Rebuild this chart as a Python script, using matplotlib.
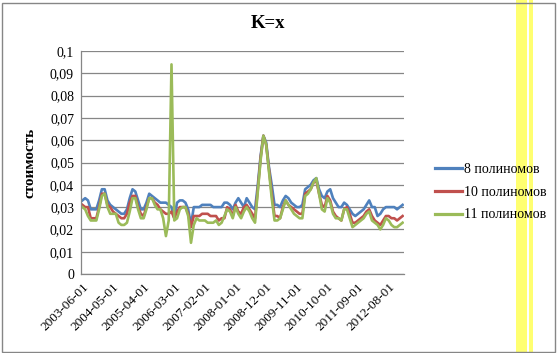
import matplotlib
matplotlib.use("Agg")
import matplotlib.pyplot as plt
from matplotlib.patches import Rectangle
import numpy as np

title = "K=x"
ylabel = "стоимость"
series_names = ["8 полиномов", "10 полиномов", "11 полиномов"]
tick_labels = ["2003-06-01", "2004-05-01", "2005-04-01", "2006-03-01", "2007-02-01",
               "2008-01-01", "2008-12-01", "2009-11-01", "2010-10-01", "2011-09-01",
               "2012-08-01"]
tick_step = 11
yticks = [0, 0.01, 0.02, 0.03, 0.04, 0.05, 0.06, 0.07, 0.08, 0.09, 0.1]

blue = [0.033, 0.034, 0.033, 0.029, 0.029, 0.029, 0.033, 0.038, 0.038, 0.033,
        0.031, 0.030, 0.029, 0.028, 0.027, 0.027, 0.029, 0.034, 0.038, 0.037,
        0.033, 0.029, 0.029, 0.032, 0.036, 0.035, 0.034, 0.033, 0.032, 0.032,
        0.032, 0.031, 0.030, 0.025, 0.032, 0.033, 0.033, 0.032, 0.029, 0.022,
        0.030, 0.030, 0.030, 0.031, 0.031, 0.031, 0.031, 0.030, 0.030, 0.030,
        0.030, 0.032, 0.032, 0.031, 0.029, 0.032, 0.034, 0.032, 0.030, 0.034,
        0.032, 0.030, 0.029, 0.040, 0.053, 0.062, 0.059, 0.048, 0.040, 0.031,
        0.031, 0.030, 0.033, 0.035, 0.034, 0.032, 0.031, 0.030, 0.030, 0.031,
        0.038, 0.039, 0.040, 0.042, 0.043, 0.038, 0.035, 0.034, 0.037, 0.038,
        0.034, 0.032, 0.030, 0.030, 0.032, 0.031, 0.029, 0.027, 0.026, 0.027,
        0.028, 0.029, 0.031, 0.033, 0.030, 0.030, 0.026, 0.027, 0.029, 0.030,
        0.030, 0.030, 0.030, 0.029, 0.030, 0.031]

red = [0.031, 0.030, 0.030, 0.025, 0.025, 0.025, 0.030, 0.036, 0.036, 0.031,
       0.030, 0.028, 0.027, 0.026, 0.025, 0.025, 0.027, 0.032, 0.035, 0.035,
       0.030, 0.027, 0.026, 0.030, 0.034, 0.034, 0.032, 0.031, 0.029, 0.028,
       0.027, 0.027, 0.028, 0.025, 0.028, 0.030, 0.030, 0.030, 0.027, 0.021,
       0.026, 0.026, 0.026, 0.027, 0.027, 0.027, 0.026, 0.026, 0.026, 0.024,
       0.025, 0.025, 0.030, 0.029, 0.026, 0.031, 0.028, 0.027, 0.030, 0.031,
       0.029, 0.027, 0.025, 0.038, 0.052, 0.062, 0.058, 0.047, 0.036, 0.026,
       0.026, 0.025, 0.030, 0.033, 0.031, 0.030, 0.029, 0.028, 0.027, 0.027,
       0.036, 0.037, 0.038, 0.041, 0.042, 0.036, 0.031, 0.030, 0.035, 0.033,
       0.028, 0.026, 0.025, 0.024, 0.029, 0.030, 0.027, 0.023, 0.023, 0.024,
       0.025, 0.026, 0.028, 0.029, 0.026, 0.024, 0.023, 0.022, 0.024, 0.026,
       0.026, 0.025, 0.025, 0.024, 0.025, 0.026]

green = [0.030, 0.029, 0.026, 0.024, 0.024, 0.024, 0.029, 0.035, 0.036, 0.030,
         0.027, 0.027, 0.027, 0.023, 0.022, 0.022, 0.023, 0.028, 0.034, 0.034,
         0.029, 0.025, 0.025, 0.029, 0.034, 0.034, 0.031, 0.029, 0.029, 0.025,
         0.017, 0.024, 0.094, 0.024, 0.025, 0.029, 0.030, 0.030, 0.026, 0.014,
         0.022, 0.025, 0.024, 0.024, 0.024, 0.023, 0.023, 0.023, 0.024, 0.022,
         0.023, 0.026, 0.029, 0.028, 0.025, 0.030, 0.027, 0.025, 0.028, 0.030,
         0.028, 0.025, 0.023, 0.037, 0.051, 0.062, 0.058, 0.046, 0.034, 0.024,
         0.024, 0.025, 0.029, 0.033, 0.031, 0.029, 0.027, 0.026, 0.025, 0.025,
         0.035, 0.036, 0.038, 0.041, 0.043, 0.036, 0.029, 0.028, 0.034, 0.032,
         0.027, 0.025, 0.025, 0.024, 0.029, 0.029, 0.025, 0.021, 0.022, 0.023,
         0.024, 0.025, 0.027, 0.028, 0.024, 0.023, 0.022, 0.020, 0.022, 0.025,
         0.024, 0.022, 0.021, 0.021, 0.022, 0.023]

colors = ["#4F81BD", "#C0504D", "#9BBB59"]
serif = ["Liberation Serif", "DejaVu Serif"]

W, H = 557, 353
fig = plt.figure(figsize=(W / 100, H / 100), dpi=100)
fig.patch.set_facecolor("white")

# yellow strip (behind text)
fig.patches.append(Rectangle((516 / W, 0), 17 / W, 1, transform=fig.transFigure,
                             facecolor="#FFFF70", edgecolor="none", zorder=0))
fig.patches.append(Rectangle((527 / W, 0), 1.5 / W, 1, transform=fig.transFigure,
                             facecolor="white", edgecolor="none", zorder=0.5))

ax = fig.add_axes([81 / W, 1 - 274 / H, (404 - 81) / W, (274 - 51) / H])
ax.patch.set_alpha(0)
x = np.arange(len(blue))
for vals, c, name in zip([blue, red, green], colors, series_names):
    ax.plot(x, vals, color=c, lw=1.9, label=name, solid_joinstyle="round")

ax.set_xlim(-0.5, len(blue) - 0.5)
ax.set_ylim(0, 0.1)
ax.set_yticks(yticks)
ax.set_yticklabels([("%g" % v).replace(".", ",") for v in yticks],
                   fontfamily=serif, fontsize=10)
ax.yaxis.grid(True, color="#868686", lw=0.9)
ax.set_axisbelow(True)
ax.set_xticks(np.arange(0, len(tick_labels) * tick_step, tick_step))
ax.set_xticklabels(tick_labels, rotation=45, ha="right", rotation_mode="anchor",
                   fontfamily=serif, fontsize=9.5)
ax.tick_params(length=0, pad=5)
for s in ["top", "right"]:
    ax.spines[s].set_visible(False)
for s in ["left", "bottom"]:
    ax.spines[s].set_color("#868686")
    ax.spines[s].set_linewidth(0.9)

ax.set_ylabel(ylabel, fontfamily=serif, fontsize=11, fontweight="bold", labelpad=10)
fig.text(268 / W, 1 - 24 / H, title, ha="center", va="center",
         fontfamily=serif, fontsize=13.5, fontweight="bold")

leg = fig.legend(loc="upper left", bbox_to_anchor=(435 / W, 1 - 163 / H),
                 frameon=False, prop={"family": serif, "size": 10},
                 handlelength=1.95, handletextpad=0.15, labelspacing=0.7,
                 borderpad=0, borderaxespad=0)
for line in leg.get_lines():
    line.set_linewidth(2.3)

fig.patches.append(Rectangle((1.5 / W, 1.5 / H), (W - 4) / W, (H - 4) / H,
                             transform=fig.transFigure, facecolor="none",
                             edgecolor="#868686", lw=1, zorder=7))

fig.savefig("out.png", dpi=100)
